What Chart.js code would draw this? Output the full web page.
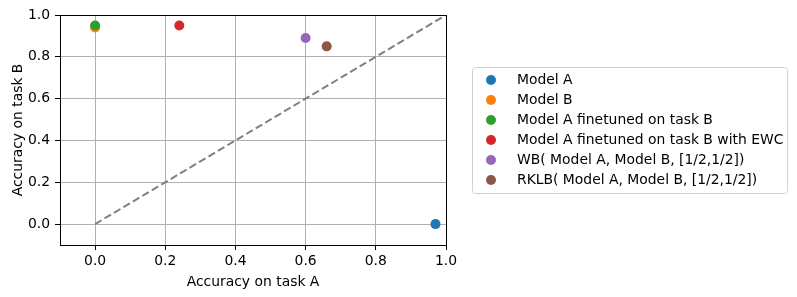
<!DOCTYPE html>
<html>
<head>
<meta charset="utf-8">
<script src="https://cdn.jsdelivr.net/npm/chart.js@4/dist/chart.umd.min.js"></script>
<style>
  html, body { margin: 0; padding: 0; background: #fff; }
  #wrap { width: 797px; height: 297px; }
</style>
</head>
<body>
<div id="wrap"><canvas id="myChart" width="797" height="297"></canvas></div>
<script>
// Datos del gráfico
const labels = [
  'Model A',
  'Model B',
  'Model A finetuned on task B',
  'Model A finetuned on task B with EWC',
  'WB( Model A, Model B, [1/2,1/2])',
  'RKLB( Model A, Model B, [1/2,1/2])'
];
const accA = [0.97, 0.0, 0.0, 0.24, 0.60, 0.66];
const accB = [0.0, 0.94, 0.95, 0.95, 0.89, 0.85];
const colors = ['#1f77b4', '#ff7f0e', '#2ca02c', '#d62728', '#9467bd', '#8c564b'];
const diagonal = [{x: 0, y: 0}, {x: 1, y: 1}];
const xTicks = [0.0, 0.2, 0.4, 0.6, 0.8, 1.0];
const yTicks = [0.0, 0.2, 0.4, 0.6, 0.8, 1.0];

const FONT = 'DejaVu Sans';
const FS = 13.9;
const R = 5;

// Datasets
const datasets = labels.map((label, i) => ({
  type: 'scatter',
  label,
  data: [{x: accA[i], y: accB[i]}],
  backgroundColor: colors[i],
  borderColor: colors[i],
  borderWidth: 0,
  pointRadius: R,
  order: 10 - i
}));
datasets.push({
  type: 'line',
  label: 'diagonal',
  data: diagonal,
  borderColor: '#808080',
  borderWidth: 2,
  borderDash: [7.5, 3.5],
  pointRadius: 0,
  fill: false,
  order: 20
});

// Marco del eje y leyenda
const framePlugin = {
  id: 'frame',
  afterDraw(chart) {
    const ctx = chart.ctx;
    const a = chart.chartArea;
    ctx.save();
    ctx.strokeStyle = '#000';
    ctx.lineWidth = 1;
    ctx.strokeRect(Math.round(a.left) + 0.5, Math.round(a.top) + 0.5,
      Math.round(a.right - a.left), Math.round(a.bottom - a.top));

    // leyenda
    const lx = 472, ly = 67, lw = 315, lh = 126;
    ctx.beginPath();
    ctx.roundRect(lx + 0.5, ly + 0.5, lw, lh, 3);
    ctx.fillStyle = 'rgba(255,255,255,0.8)';
    ctx.fill();
    ctx.strokeStyle = '#d0d0d0';
    ctx.lineWidth = 1;
    ctx.stroke();
    ctx.font = FS + 'px "' + FONT + '"';
    ctx.textBaseline = 'middle';
    ctx.textAlign = 'left';
    labels.forEach((label, i) => {
      const y = 80 + i * 20;
      ctx.beginPath();
      ctx.arc(491, y, R, 0, Math.PI * 2);
      ctx.fillStyle = colors[i];
      ctx.fill();
      ctx.fillStyle = '#000';
      ctx.fillText(label, 517, y + 0.5);
    });
    ctx.restore();
  }
};

const config = {
  data: { datasets },
  options: {
    responsive: false,
    animation: false,
    layout: { padding: { left: 0, top: 15, right: 797 - 446, bottom: 0 } },
    plugins: { legend: { display: false }, tooltip: { enabled: false } },
    scales: {
      x: {
        type: 'linear',
        min: -0.1,
        max: 1.0,
        afterBuildTicks: (scale) => { scale.ticks = xTicks.map(v => ({value: v})); },
        afterFit: (scale) => { scale.height = 52; },
        ticks: {
          color: '#000',
          font: { family: FONT, size: FS },
          padding: 3,
          maxRotation: 0,
          callback: (v) => v.toFixed(1)
        },
        grid: { color: '#b0b0b0', lineWidth: 1, tickColor: '#000', tickLength: 5, tickWidth: 1 },
        border: { display: false },
        title: {
          display: true,
          text: 'Accuracy on task A',
          color: '#000',
          font: { family: FONT, size: FS },
          padding: { top: 0, bottom: 6 }
        }
      },
      y: {
        type: 'linear',
        min: -0.1,
        max: 1.0,
        afterBuildTicks: (scale) => { scale.ticks = yTicks.map(v => ({value: v})); },
        afterFit: (scale) => { scale.width = 60; },
        ticks: {
          color: '#000',
          font: { family: FONT, size: FS },
          padding: 5,
          callback: (v) => v.toFixed(1)
        },
        grid: { color: '#b0b0b0', lineWidth: 1, tickColor: '#000', tickLength: 5, tickWidth: 1 },
        border: { display: false },
        title: {
          display: true,
          text: 'Accuracy on task B',
          color: '#000',
          font: { family: FONT, size: FS },
          padding: { top: 10, bottom: 0 }
        }
      }
    }
  },
  plugins: [framePlugin]
};

const myChart = document.getElementById('myChart');
new Chart(myChart, config);
</script>
</body>
</html>
